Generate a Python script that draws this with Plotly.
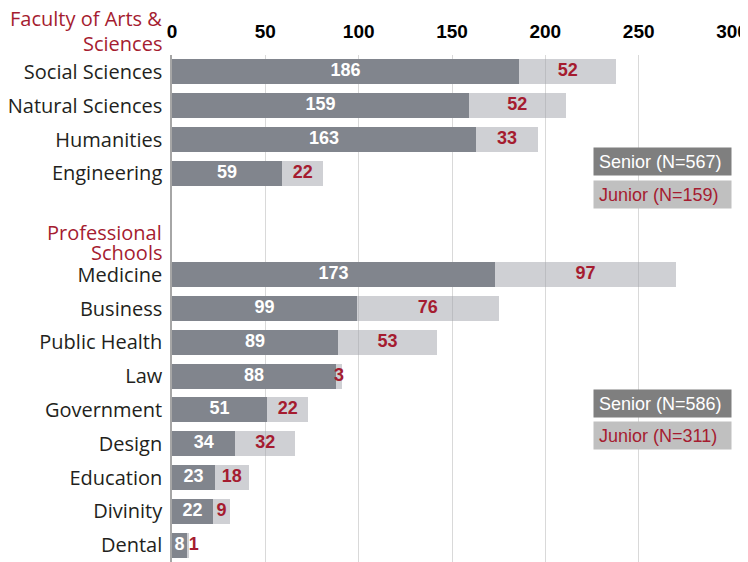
import plotly.graph_objects as go

# ---- data ----
arts_categories = ["Social Sciences", "Natural Sciences", "Humanities", "Engineering"]
arts_senior = [186, 159, 163, 59]
arts_junior = [52, 52, 33, 22]

prof_categories = ["Medicine", "Business", "Public Health", "Law", "Government",
                   "Design", "Education", "Divinity", "Dental"]
prof_senior = [173, 99, 89, 88, 51, 34, 23, 22, 8]
prof_junior = [97, 76, 53, 3, 22, 32, 18, 9, 1]

group_titles = [["Faculty of Arts &", "Sciences"], ["Professional", "Schools"]]
legend_arts = ["Senior (N=567)", "Junior (N=159)"]
legend_prof = ["Senior (N=586)", "Junior (N=311)"]

x_ticks = [0, 50, 100, 150, 200, 250, 300]

# ---- styling ----
SENIOR = "#81858d"
JUNIOR = "rgba(160,162,170,0.5)"
CRIMSON = "#a51c30"
LABEL_FONT = "Open Sans"
NUM_FONT = "Liberation Sans, Arial, sans-serif"

spacers = [" ", "  "]
categories = arts_categories + prof_categories
senior = arts_senior + prof_senior
junior = arts_junior + prof_junior
category_order = arts_categories + spacers + prof_categories

fig = go.Figure()
fig.add_trace(go.Bar(y=categories, x=senior, orientation="h", marker=dict(color=SENIOR, line=dict(width=0)),
                     width=0.74, name="Senior", hoverinfo="x+y"))
fig.add_trace(go.Bar(y=categories, x=junior, orientation="h", marker=dict(color=JUNIOR, line=dict(width=0)),
                     width=0.74, name="Junior", hoverinfo="x+y"))

# value labels
fig.add_trace(go.Scatter(y=categories, x=[s / 2 for s in senior], mode="text",
                         text=[str(s) for s in senior], textposition="middle center",
                         textfont=dict(family=NUM_FONT, size=18, color="white", weight="bold"),
                         hoverinfo="skip"))
jx, jpos = [], []
for s, j in zip(senior, junior):
    if j < 2:
        jx.append(s + j)
        jpos.append("middle right")
    else:
        jx.append(s + j / 2)
        jpos.append("middle center")
fig.add_trace(go.Scatter(y=categories, x=jx, mode="text",
                         text=[str(j) for j in junior], textposition=jpos,
                         textfont=dict(family=NUM_FONT, size=18, color=CRIMSON, weight="bold"),
                         hoverinfo="skip"))

# page body has an 8px default margin; compensate so the plot lands where intended
OFF = 8
W, H = 748 - OFF, 562
ML, MR, MT, MB = 172 - OFF, 16, 55 - OFF, 0 + OFF
pw, ph = W - ML - MR, H - MT - MB


def px(xp):
    return (xp - OFF - ML) / pw


def py(yp):
    return 1 - (yp - OFF - MT) / ph


annotations = []
# group titles
for (l1, l2), (y1, y2) in zip(group_titles, [(18, 43), (232, 252)]):
    for t, yy in ((l1, y1), (l2, y2)):
        annotations.append(dict(text=t, xref="paper", yref="paper", x=px(164), y=py(yy),
                                xanchor="right", yanchor="middle", showarrow=False,
                                font=dict(family=LABEL_FONT, size=20, color=CRIMSON)))

# legend boxes
for labels, (ys, yj) in ((legend_arts, (161.5, 194.5)), (legend_prof, (403, 435.5))):
    for lab, yy, bg, fc in ((labels[0], ys, "#7f7f7f", "white"), (labels[1], yj, "#c0c0c0", CRIMSON)):
        annotations.append(dict(text="\u00a0" + lab, xref="paper", yref="paper", x=px(593), y=py(yy),
                                xanchor="left", yanchor="middle", showarrow=False, align="left",
                                width=137, height=27, bgcolor=bg, borderpad=0,
                                font=dict(family=NUM_FONT, size=18, color=fc)))

n_slots = len(category_order)
fig.update_layout(
    width=W, height=H,
    margin=dict(l=ML, r=MR, t=MT, b=MB, autoexpand=False),
    paper_bgcolor="white", plot_bgcolor="white",
    barmode="stack", bargap=0.26, showlegend=False,
    annotations=annotations,
    xaxis=dict(side="top", range=[0, 300], tickvals=x_ticks, ticktext=[str(t) for t in x_ticks],
               showgrid=True, gridcolor="#d9d9d9", gridwidth=1, zeroline=False, showline=False,
               ticks="", ticklabelstandoff=12, automargin=False,
               tickfont=dict(family=NUM_FONT, size=19, color="black", weight="bold"), fixedrange=True),
    yaxis=dict(type="category", categoryorder="array", categoryarray=category_order,
               range=[n_slots - 0.5, -0.5], showgrid=False, zeroline=False, automargin=False,
               showline=True, linecolor="#a6a6a6", linewidth=1.5, ticks="", ticklabelstandoff=4,
               tickfont=dict(family=LABEL_FONT, size=20, color="#231f20"), fixedrange=True),
)

fig.write_html("out.html", post_script="document.documentElement.style.overflow='hidden';")
